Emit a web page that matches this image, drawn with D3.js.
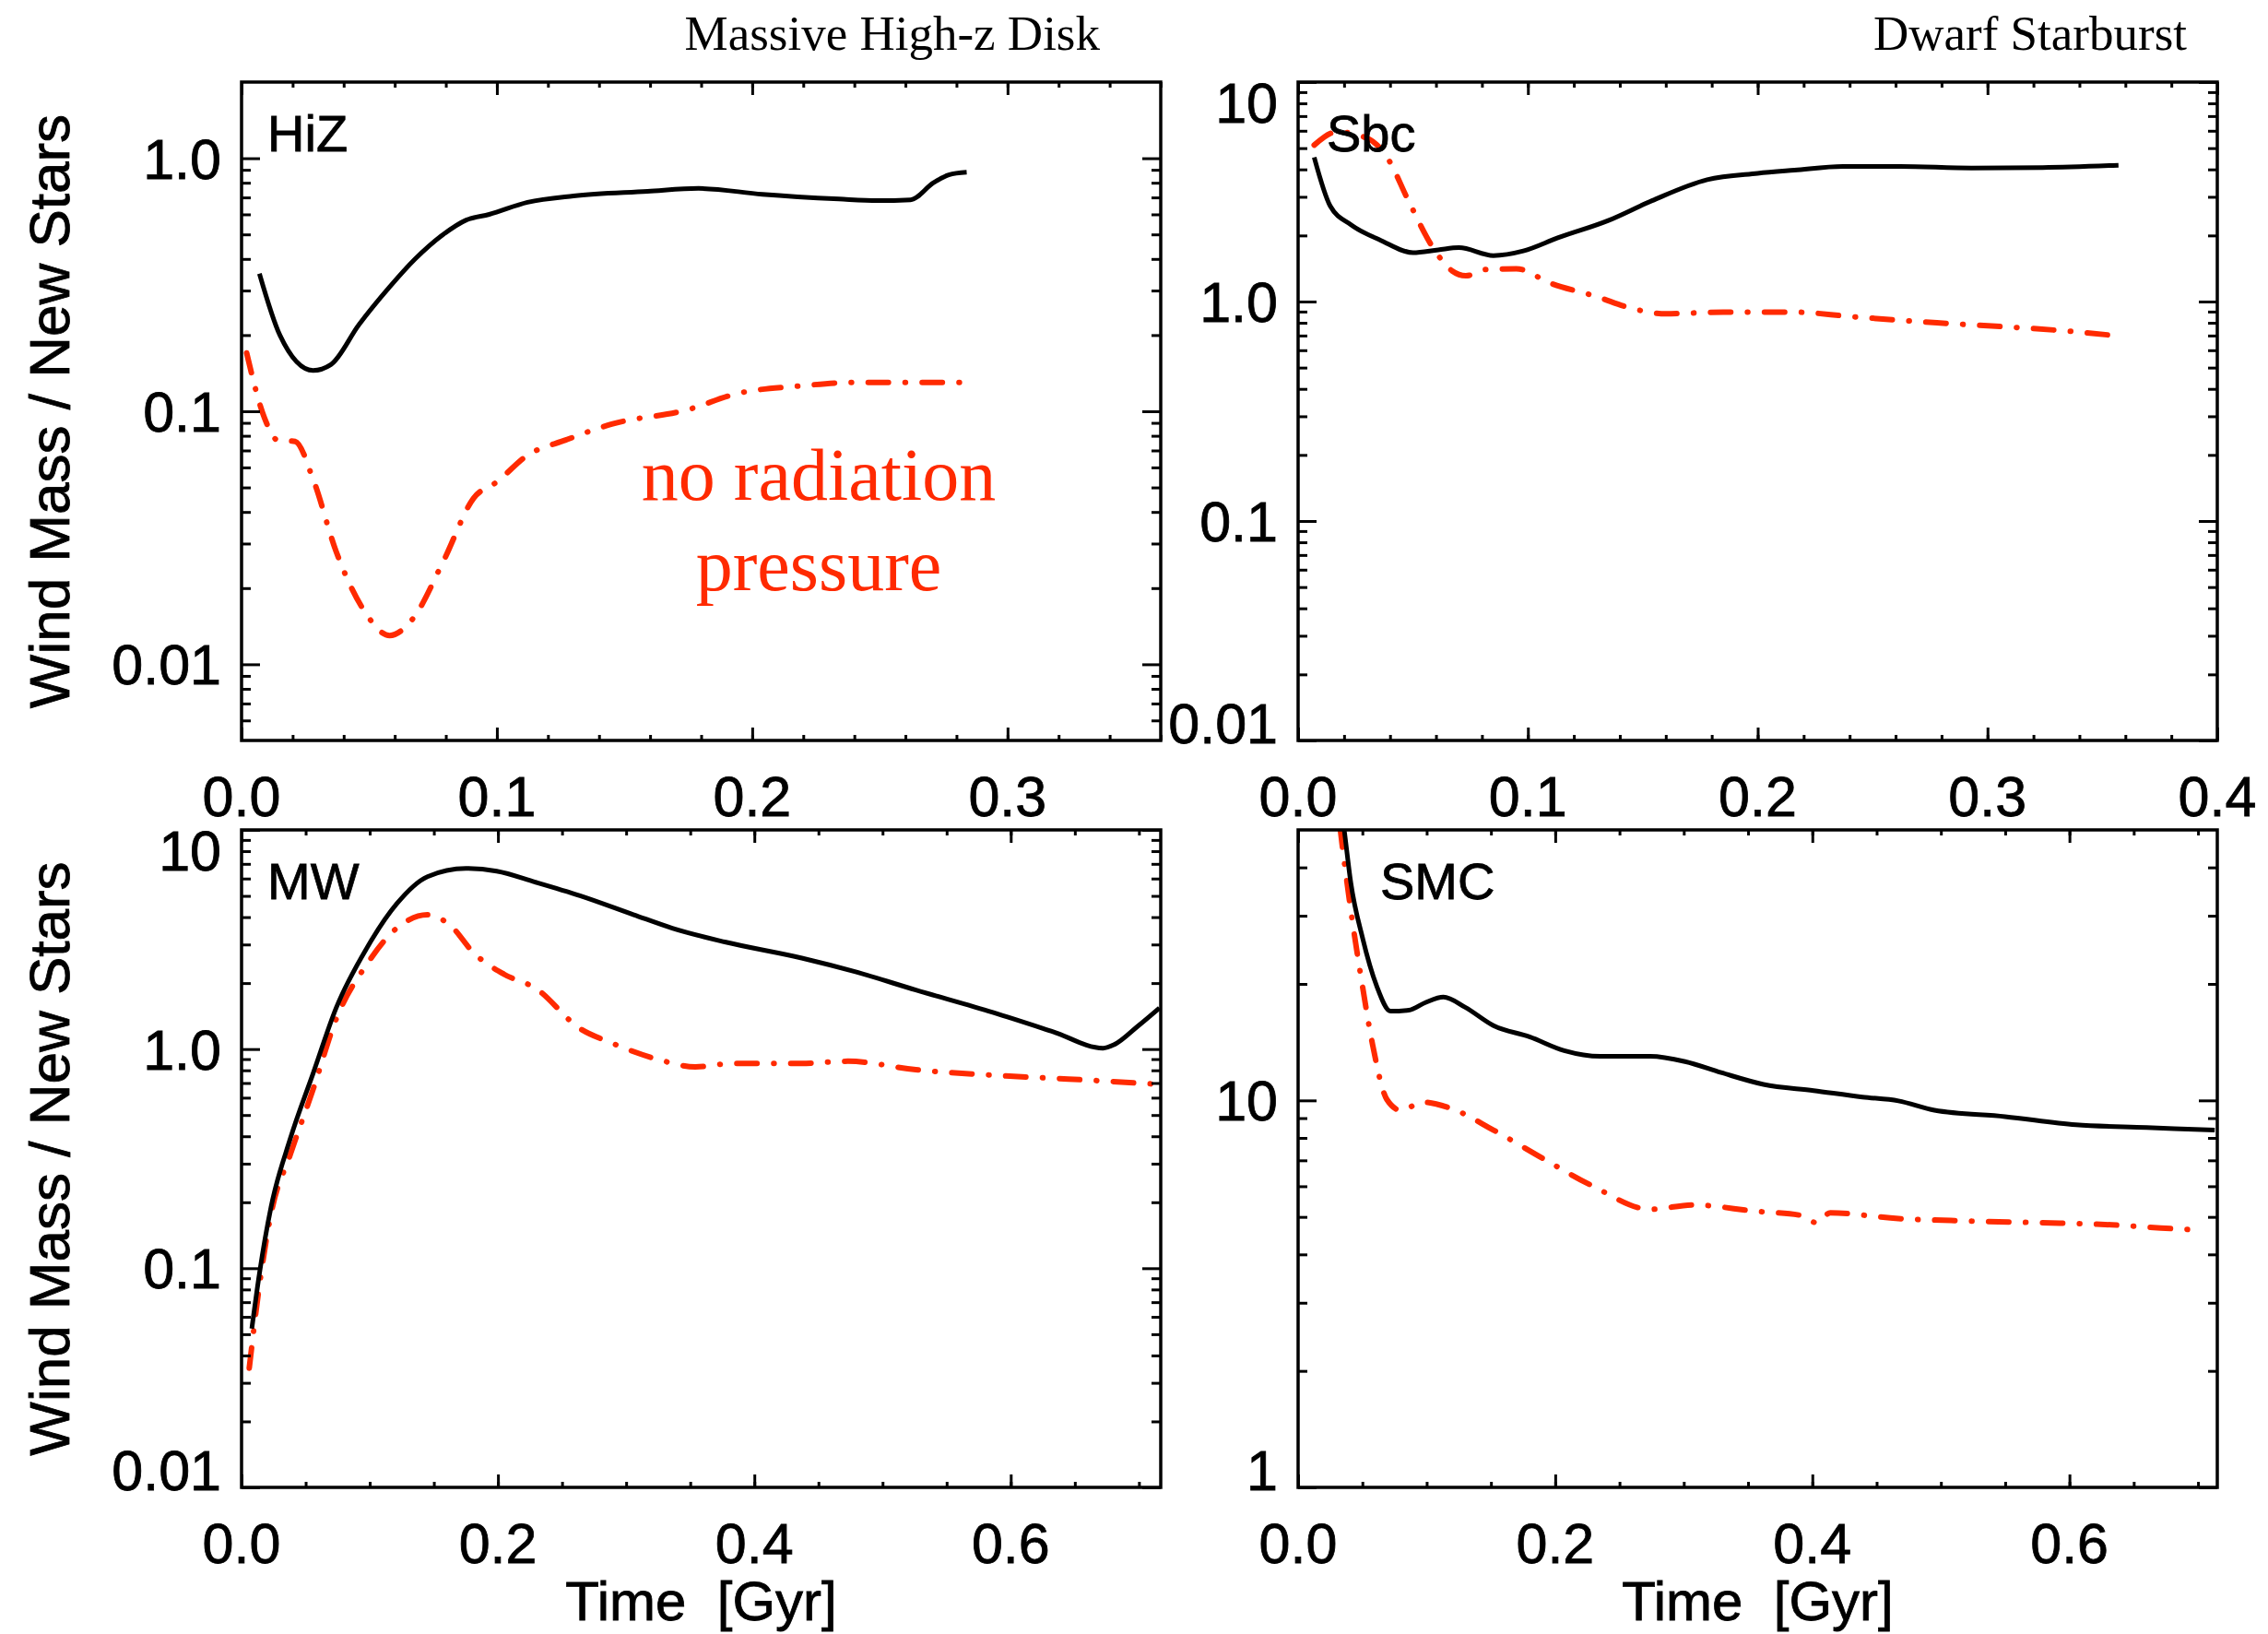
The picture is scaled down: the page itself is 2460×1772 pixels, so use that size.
<!DOCTYPE html>
<html>
<head>
<meta charset="utf-8">
<script src="https://cdn.jsdelivr.net/npm/d3@7"></script>
<style>
  body { margin: 0; background: #fff; }
  svg { display: block; }
  text { font-family: "Liberation Sans", Arial, Helvetica, sans-serif; fill: #000; stroke: #000; stroke-width: 0.8px; }
  .serif { font-family: "Liberation Serif", "Times New Roman", serif; stroke: none; }
</style>
</head>
<body>
<svg id="chart"></svg>
<script>
// HiZ panel
const hizRadT = [0.007, 0.015, 0.028, 0.035, 0.046, 0.058, 0.068, 0.079, 0.088, 0.097, 0.112, 0.13, 0.159, 0.179, 0.204, 0.234, 0.249, 0.262, 0.271, 0.277, 0.284];
const hizRadV = [0.35, 0.20, 0.145, 0.153, 0.22, 0.31, 0.40, 0.50, 0.57, 0.60, 0.67, 0.71, 0.74, 0.76, 0.72, 0.69, 0.68, 0.685, 0.80, 0.86, 0.88];
const hizNoRadT = [0.002, 0.009, 0.014, 0.021, 0.028, 0.037, 0.0475, 0.058, 0.067, 0.079, 0.091, 0.100, 0.112, 0.127, 0.145, 0.174, 0.195, 0.219, 0.240, 0.264, 0.287];
const hizNoRadV = [0.17, 0.094, 0.077, 0.076, 0.054, 0.028, 0.0166, 0.013, 0.0151, 0.0255, 0.0455, 0.0526, 0.067, 0.077, 0.089, 0.101, 0.118, 0.126, 0.130, 0.130, 0.130];

// Sbc panel
const sbcRadT = [0.007, 0.014, 0.023, 0.036, 0.050, 0.061, 0.070, 0.085, 0.098, 0.113, 0.135, 0.154, 0.178, 0.200, 0.216, 0.237, 0.262, 0.293, 0.324, 0.357];
const sbcRadV = [4.54, 2.72, 2.24, 1.90, 1.67, 1.72, 1.76, 1.62, 1.70, 1.95, 2.34, 2.88, 3.59, 3.84, 3.97, 4.13, 4.13, 4.06, 4.08, 4.18];
const sbcNoRadT = [0.007, 0.017, 0.030, 0.039, 0.048, 0.059, 0.067, 0.073, 0.082, 0.095, 0.110, 0.129, 0.147, 0.160, 0.185, 0.216, 0.240, 0.278, 0.309, 0.333, 0.357];
const sbcNoRadV = [5.16, 5.93, 5.55, 4.49, 2.88, 1.74, 1.38, 1.31, 1.40, 1.41, 1.21, 1.06, 0.92, 0.88, 0.895, 0.895, 0.855, 0.80, 0.766, 0.736, 0.697];

// MW panel
const mwRadT = [0.008, 0.014, 0.023, 0.038, 0.056, 0.074, 0.098, 0.121, 0.145, 0.175, 0.199, 0.229, 0.264, 0.306, 0.336, 0.377, 0.437, 0.479, 0.526, 0.586, 0.633, 0.672, 0.681, 0.699, 0.716];
const mwRadV = [0.053, 0.095, 0.19, 0.39, 0.78, 1.55, 2.91, 4.60, 6.12, 6.67, 6.48, 5.78, 5.01, 4.10, 3.56, 3.08, 2.60, 2.25, 1.86, 1.47, 1.20, 1.01, 1.05, 1.27, 1.54];
const mwNoRadT = [0.006, 0.014, 0.023, 0.038, 0.056, 0.074, 0.098, 0.121, 0.145, 0.163, 0.181, 0.205, 0.229, 0.264, 0.288, 0.324, 0.354, 0.383, 0.437, 0.473, 0.526, 0.586, 0.645, 0.716];
const mwNoRadV = [0.035, 0.084, 0.177, 0.33, 0.66, 1.38, 2.45, 3.56, 4.10, 3.66, 2.75, 2.19, 1.90, 1.24, 1.07, 0.90, 0.83, 0.86, 0.86, 0.88, 0.805, 0.76, 0.73, 0.69];

// SMC panel
const smcRadT = [0.030, 0.036, 0.041, 0.050, 0.061, 0.072, 0.086, 0.099, 0.113, 0.130, 0.152, 0.180, 0.207, 0.235, 0.274, 0.301, 0.329, 0.362, 0.401, 0.439, 0.467, 0.495, 0.550, 0.605, 0.660, 0.713];
const smcRadV = [70, 49.6, 36.5, 26.4, 19.8, 17.0, 17.1, 17.9, 18.5, 17.4, 15.6, 14.6, 13.45, 13.0, 13.0, 12.6, 11.8, 11.0, 10.6, 10.2, 9.97, 9.43, 9.08, 8.65, 8.51, 8.38];
const smcNoRadT = [0.028, 0.033, 0.041, 0.050, 0.058, 0.069, 0.080, 0.097, 0.119, 0.152, 0.191, 0.229, 0.274, 0.307, 0.356, 0.392, 0.403, 0.414, 0.467, 0.522, 0.577, 0.633, 0.671, 0.704];
const smcNoRadV = [70, 49.6, 31.0, 19.8, 13.9, 10.06, 9.43, 9.90, 9.53, 8.38, 7.06, 6.01, 5.23, 5.37, 5.17, 5.04, 4.83, 5.12, 4.95, 4.88, 4.83, 4.77, 4.68, 4.62];

// tick labels
const topXTicks = [0, 0.1, 0.2, 0.3, 0.4];
const bottomXTicks = [0, 0.2, 0.4, 0.6];
const yTickValues = [10, 1, 0.1, 0.01];
const yTickLabels = ['10', '1.0', '0.1', '0.01'];
const smcYTickValues = [10, 1];
const smcYTickLabels = ['10', '1'];

const width = 2460, height = 1772;
const red = '#ff2a00';

// panel boxes (columns / rows in pixels)
const cols = [[262, 1259], [1408, 2405]];
const rows = [[89, 803], [900, 1613]];

const panels = [
   { name: 'HiZ', col: 0, row: 0, xMax: 0.36, yDom: [0.005, 2], xMajor: topXTicks, xMinor: 0.02,
     yVals: yTickValues, yLabels: yTickLabels, labelDx: 28,
     rad: d3.zip(hizRadT, hizRadV), noRad: d3.zip(hizNoRadT, hizNoRadV) },
   { name: 'Sbc', col: 1, row: 0, xMax: 0.4, yDom: [0.01, 10], xMajor: topXTicks, xMinor: 0.02,
     yVals: yTickValues, yLabels: yTickLabels, labelDx: 31,
     rad: d3.zip(sbcRadT, sbcRadV), noRad: d3.zip(sbcNoRadT, sbcNoRadV) },
   { name: 'MW', col: 0, row: 1, xMax: 0.717, yDom: [0.01, 10], xMajor: bottomXTicks, xMinor: 0.05,
     yVals: yTickValues, yLabels: yTickLabels, labelDx: 28,
     rad: d3.zip(mwRadT, mwRadV), noRad: d3.zip(mwNoRadT, mwNoRadV) },
   { name: 'SMC', col: 1, row: 1, xMax: 0.715, yDom: [1, 50], xMajor: bottomXTicks, xMinor: 0.05,
     yVals: smcYTickValues, yLabels: smcYTickLabels, labelDx: 89,
     rad: d3.zip(smcRadT, smcRadV), noRad: d3.zip(smcNoRadT, smcNoRadV) },
];

const svg = d3.select('#chart')
   .attr('width', width)
   .attr('height', height);

svg.append('rect')
   .attr('width', width)
   .attr('height', height)
   .attr('fill', '#fff');

const defs = svg.append('defs');

// strip the axis down to its tick marks
const ticksOnly = sel => {
   sel.select('.domain').remove();
   sel.selectAll('.tick text').remove();
   sel.selectAll('.tick line').attr('stroke', '#000').attr('stroke-width', 3);
};

// minor log ticks (2..9 of each decade) inside the domain
const logMinors = dom => {
   const out = [];
   for (let d = Math.floor(Math.log10(dom[0])); d <= Math.ceil(Math.log10(dom[1])); d++) {
      for (let k = 2; k <= 9; k++) {
         const v = k * Math.pow(10, d);
         if (v > dom[0] * 1.0001 && v < dom[1] * 0.9999) out.push(v);
      }
   }
   return out;
};

panels.forEach((p, i) => {
   const [x0, x1] = cols[p.col];
   const [y0, y1] = rows[p.row];

   const x = d3.scaleLinear().domain([0, p.xMax]).range([x0, x1]);
   const y = d3.scaleLog().domain(p.yDom).range([y1, y0]);

   const g = svg.append('g');

   defs.append('clipPath').attr('id', 'clip' + i)
      .append('rect')
      .attr('x', x0).attr('y', y0)
      .attr('width', x1 - x0).attr('height', y1 - y0);

   const line = d3.line()
      .x(d => x(d[0]))
      .y(d => y(d[1]))
      .curve(d3.curveMonotoneX);

   // curves
   const curves = g.append('g').attr('clip-path', `url(#clip${i})`);
   curves.append('path')
      .datum(p.noRad)
      .attr('d', line)
      .attr('fill', 'none')
      .attr('stroke', red)
      .attr('stroke-width', 6)
      .attr('stroke-linecap', 'round')
      .attr('stroke-dasharray', '22,18,0.5,18');
   curves.append('path')
      .datum(p.rad)
      .attr('d', line)
      .attr('fill', 'none')
      .attr('stroke', '#000')
      .attr('stroke-width', 5)
      .attr('stroke-linejoin', 'round');

   // tick marks on all four sides
   const majX = p.xMajor.filter(v => v <= p.xMax + 1e-9);
   const minX = d3.range(0, p.xMax + 1e-9, p.xMinor);
   const majY = p.yVals.filter(v => v >= p.yDom[0] && v <= p.yDom[1]);
   const minY = logMinors(p.yDom);

   g.append('g').attr('transform', `translate(0,${y1})`)
      .call(d3.axisBottom(x).tickValues(minX).tickSize(-6)).call(ticksOnly);
   g.append('g').attr('transform', `translate(0,${y1})`)
      .call(d3.axisBottom(x).tickValues(majX).tickSize(-14)).call(ticksOnly);
   g.append('g').attr('transform', `translate(0,${y0})`)
      .call(d3.axisTop(x).tickValues(minX).tickSize(-6)).call(ticksOnly);
   g.append('g').attr('transform', `translate(0,${y0})`)
      .call(d3.axisTop(x).tickValues(majX).tickSize(-14)).call(ticksOnly);

   g.append('g').attr('transform', `translate(${x0},0)`)
      .call(d3.axisLeft(y).tickValues(minY).tickSize(-10)).call(ticksOnly);
   g.append('g').attr('transform', `translate(${x0},0)`)
      .call(d3.axisLeft(y).tickValues(majY).tickSize(-20)).call(ticksOnly);
   g.append('g').attr('transform', `translate(${x1},0)`)
      .call(d3.axisRight(y).tickValues(minY).tickSize(-10)).call(ticksOnly);
   g.append('g').attr('transform', `translate(${x1},0)`)
      .call(d3.axisRight(y).tickValues(majY).tickSize(-20)).call(ticksOnly);

   // frame
   g.append('rect')
      .attr('x', x0).attr('y', y0)
      .attr('width', x1 - x0).attr('height', y1 - y0)
      .attr('fill', 'none')
      .attr('stroke', '#000')
      .attr('stroke-width', 3.5);

   // x tick labels
   g.selectAll('.xlab')
      .data(majX)
      .enter()
      .append('text')
      .attr('x', d => x(d))
      .attr('y', y1 + 82)
      .attr('text-anchor', 'middle')
      .style('font-size', '61px')
      .text(d => d.toFixed(1));

   // y tick labels (end labels are pulled inside the box, as in the original)
   g.selectAll('.ylab')
      .data(p.yVals.map((v, k) => [v, p.yLabels[k]]).filter(d => d[0] >= p.yDom[0] && d[0] <= p.yDom[1]))
      .enter()
      .append('text')
      .attr('x', x0 - 22)
      .attr('y', d => Math.max(y0 + 22, Math.min(y1 - 19, y(d[0]))))
      .attr('dy', '0.36em')
      .attr('text-anchor', 'end')
      .style('font-size', '61px')
      .text(d => d[1]);

   // panel name
   g.append('text')
      .attr('x', x0 + p.labelDx)
      .attr('y', y0 + 75)
      .style('font-size', '56px')
      .text(p.name);
});

// y axis titles
rows.forEach(([y0, y1]) => {
   svg.append('text')
      .attr('transform', `translate(75,${(y0 + y1) / 2}) rotate(-90)`)
      .attr('text-anchor', 'middle')
      .style('font-size', '62px')
      .text('Wind Mass / New Stars');
});

// x axis titles
cols.forEach(([x0, x1]) => {
   svg.append('text')
      .attr('x', (x0 + x1) / 2)
      .attr('y', 1757)
      .attr('text-anchor', 'middle')
      .style('font-size', '60px')
      .style('white-space', 'pre')
      .text('Time  [Gyr]');
});

// column titles
svg.append('text')
   .attr('class', 'serif')
   .attr('x', 1193).attr('y', 54)
   .attr('text-anchor', 'end')
   .style('font-size', '53px')
   .text('Massive High-z Disk');
svg.append('text')
   .attr('class', 'serif')
   .attr('x', 2372).attr('y', 54)
   .attr('text-anchor', 'end')
   .style('font-size', '53px')
   .text('Dwarf Starburst');

// annotation
const note = svg.append('text')
   .attr('class', 'serif')
   .attr('text-anchor', 'middle')
   .style('font-size', '80px')
   .style('fill', red);
note.append('tspan').attr('x', 888).attr('y', 542).text('no radiation');
note.append('tspan').attr('x', 888).attr('y', 640).text('pressure');
</script>
</body>
</html>
